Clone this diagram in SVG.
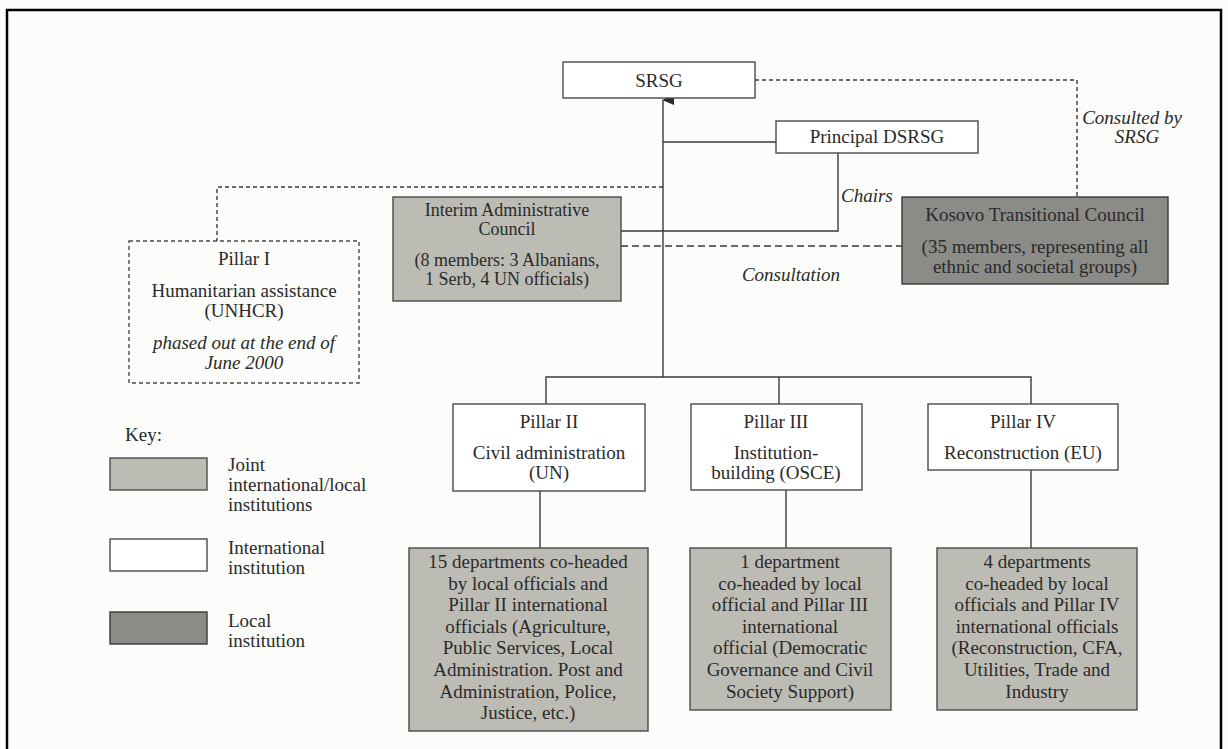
<svg xmlns="http://www.w3.org/2000/svg" width="1228" height="749" viewBox="0 0 1228 749">
<defs>
<style>
text{font-family:"Liberation Serif","Times New Roman",serif;font-size:19px;fill:#2a2a2a;text-anchor:middle}
.it{font-style:italic}
.lt{text-anchor:start}
.sm{font-size:18px}
.intl{fill:#ffffff;stroke:#4a4a4a;stroke-width:1.4}
.joint{fill:#bcbcb5;stroke:#4a4a4a;stroke-width:1.4}
.local{fill:#8b8b87;stroke:#3a3a3a;stroke-width:1.4}
.pillar1{fill:none;stroke:#4a4a4a;stroke-width:1.4;stroke-dasharray:4 3}
.ln{fill:none;stroke:#3a3a3a;stroke-width:1.4}
.dash{fill:none;stroke:#3a3a3a;stroke-width:1.4;stroke-dasharray:4 3}
.dash2{fill:none;stroke:#3a3a3a;stroke-width:1.4;stroke-dasharray:7 4}
</style>
<marker id="arr" markerWidth="10" markerHeight="12" refX="5" refY="1" orient="auto-start-reverse" markerUnits="userSpaceOnUse" viewBox="0 0 10 12">
<path d="M0,12 L5,0 L10,12 Z" fill="#2a2a2a"/>
</marker>
</defs>
<rect x="0" y="0" width="1228" height="749" fill="#fcfcfa"/>
<path d="M7,749 V10 H1221 V749" fill="none" stroke="#000" stroke-width="2.5"/>

<g id="connectors">
<path class="ln" d="M663,377 V100" marker-end="url(#arr)"/>
<path class="ln" d="M663,142 H776"/>
<path class="ln" d="M838,153 V231 H621"/>
<path class="dash2" d="M621,246 H902"/>
<path class="dash" d="M663,187 H217 V241"/>
<path class="dash" d="M755,80 H1077 V197"/>
<path class="ln" d="M546,404 V377 H1031 V404"/>
<path class="ln" d="M779,377 V404"/>
<path class="ln" d="M540,491 V548"/>
<path class="ln" d="M786,490 V548"/>
<path class="ln" d="M1031,470 V548"/>
</g>

<g id="labels">
<text class="it" x="1132" y="124">Consulted by</text>
<text class="it" x="1137" y="143">SRSG</text>
<text class="it lt" x="841" y="202">Chairs</text>
<text class="it" x="791" y="281">Consultation</text>
</g>

<g id="srsg">
<rect class="intl" x="563" y="62" width="192" height="36"/>
<text x="659" y="87">SRSG</text>
</g>

<g id="principal-dsrsg">
<rect class="intl" x="776" y="121" width="202" height="32"/>
<text x="877" y="143">Principal DSRSG</text>
</g>

<g id="iac">
<rect class="joint" x="393" y="197" width="228" height="104"/>
<text class="sm" x="507" y="216">Interim Administrative</text>
<text class="sm" x="507" y="235">Council</text>
<text class="sm" x="507" y="266">(8 members: 3 Albanians,</text>
<text class="sm" x="507" y="285">1 Serb, 4 UN officials)</text>
</g>

<g id="ktc">
<rect class="local" x="902" y="197" width="266" height="87"/>
<text x="1035" y="221">Kosovo Transitional Council</text>
<text x="1035" y="253">(35 members, representing all</text>
<text x="1035" y="273">ethnic and societal groups)</text>
</g>

<g id="pillar1">
<rect class="pillar1" x="129" y="241" width="230" height="142"/>
<text x="244" y="265">Pillar I</text>
<text x="244" y="297">Humanitarian assistance</text>
<text x="244" y="317">(UNHCR)</text>
<text class="it" x="244" y="349">phased out at the end of</text>
<text class="it" x="244" y="369">June 2000</text>
</g>

<g id="pillar2">
<rect class="intl" x="453" y="404" width="192" height="87"/>
<text x="549" y="428">Pillar II</text>
<text x="549" y="459">Civil administration</text>
<text x="549" y="479">(UN)</text>
</g>

<g id="pillar3">
<rect class="intl" x="691" y="404" width="171" height="86"/>
<text x="776" y="428">Pillar III</text>
<text x="776" y="459">Institution-</text>
<text x="776" y="479">building (OSCE)</text>
</g>

<g id="pillar4">
<rect class="intl" x="928" y="404" width="190" height="66"/>
<text x="1023" y="428">Pillar IV</text>
<text x="1023" y="459">Reconstruction (EU)</text>
</g>

<g id="dept2">
<rect class="joint" x="409" y="548" width="239" height="183"/>
<text x="528" y="568">15 departments co-headed</text>
<text x="528" y="590">by local officials and</text>
<text x="528" y="611">Pillar II international</text>
<text x="528" y="633">officials (Agriculture,</text>
<text x="528" y="654">Public Services, Local</text>
<text x="528" y="676">Administration. Post and</text>
<text x="528" y="698">Administration, Police,</text>
<text x="528" y="719">Justice, etc.)</text>
</g>

<g id="dept3">
<rect class="joint" x="690" y="548" width="201" height="162"/>
<text x="790" y="568">1 department</text>
<text x="790" y="590">co-headed by local</text>
<text x="790" y="611">official and Pillar III</text>
<text x="790" y="633">international</text>
<text x="790" y="654">official (Democratic</text>
<text x="790" y="676">Governance and Civil</text>
<text x="790" y="698">Society Support)</text>
</g>

<g id="dept4">
<rect class="joint" x="937" y="548" width="200" height="162"/>
<text x="1037" y="568">4 departments</text>
<text x="1037" y="590">co-headed by local</text>
<text x="1037" y="611">officials and Pillar IV</text>
<text x="1037" y="633">international officials</text>
<text x="1037" y="654">(Reconstruction, CFA,</text>
<text x="1037" y="676">Utilities, Trade and</text>
<text x="1037" y="698">Industry</text>
</g>

<g id="key">
<text class="lt" x="125" y="441">Key:</text>
<rect class="joint" x="110" y="458" width="97" height="32"/>
<text class="lt" x="228" y="471">Joint</text>
<text class="lt" x="228" y="491">international/local</text>
<text class="lt" x="228" y="511">institutions</text>
<rect class="intl" x="110" y="539" width="97" height="32"/>
<text class="lt" x="228" y="554">International</text>
<text class="lt" x="228" y="574">institution</text>
<rect class="local" x="110" y="612" width="97" height="32"/>
<text class="lt" x="228" y="627">Local</text>
<text class="lt" x="228" y="647">institution</text>
</g>
</svg>
